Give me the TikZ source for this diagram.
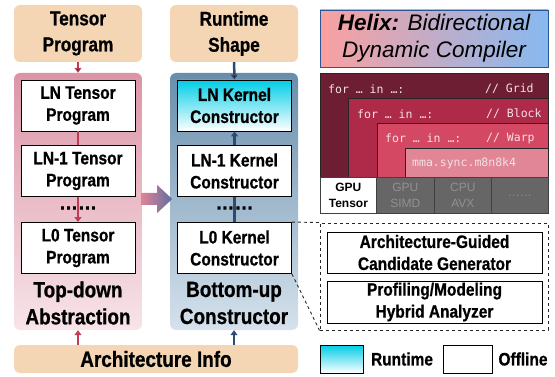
\documentclass[tikz,border=0pt]{standalone}
\usepackage{fontspec}
\setmainfont{Liberation Sans}[FakeStretch=0.86,BoldFeatures={FakeBold=0.8}]
\newfontfamily\plainsans{Liberation Sans}
\newfontfamily\codefont{DejaVu Sans Mono}
\usetikzlibrary{arrows.meta,positioning,calc}
\definecolor{tanbg}{RGB}{245,214,180}
\definecolor{pinktop}{RGB}{220,148,166}
\definecolor{pinkbot}{RGB}{247,228,233}
\definecolor{bluetop}{RGB}{104,142,172}
\definecolor{bluebot}{RGB}{214,226,237}
\definecolor{redln}{RGB}{190,60,85}
\definecolor{blueln}{RGB}{45,75,110}
\definecolor{cyantop}{RGB}{0,205,230}
\definecolor{helixl}{RGB}{250,160,160}
\definecolor{helixr}{RGB}{135,185,240}
\definecolor{helixb}{RGB}{45,85,150}
\definecolor{gridc}{RGB}{110,30,50}
\definecolor{blockc}{RGB}{175,42,72}
\definecolor{warpc}{RGB}{212,72,100}
\definecolor{mmac}{RGB}{224,134,150}
\definecolor{cellgray}{RGB}{102,102,102}
\definecolor{celltext}{RGB}{145,145,145}
\definecolor{codetxt}{RGB}{245,225,230}
\definecolor{arrowpink}{RGB}{225,130,150}
\definecolor{arrowblue}{RGB}{95,110,160}
\tikzset{
 >={Triangle[width=7pt,length=5pt]},
 tanbox/.style={fill=tanbg,rounded corners=6pt,minimum width=128pt,inner sep=0pt,align=center},
 panel/.style={rounded corners=6pt,minimum width=128pt,minimum height=257pt,inner sep=0pt},
 stagebox/.style={draw=black,line width=0.9pt,fill=white,minimum width=114pt,minimum height=51pt,inner sep=0pt,align=center,font=\fontsize{18}{22}\selectfont\bfseries},
 paneltitle/.style={align=center,inner sep=0pt,font=\fontsize{22}{27}\selectfont\bfseries},
 redarrow/.style={draw=redln,line width=2.5pt},
 bluearrow/.style={draw=blueln,line width=2.5pt},
 loopbox/.style={draw=black!85,line width=0.8pt,anchor=north west,inner sep=0pt},
 code/.style={font=\codefont\fontsize{11.5}{13}\selectfont,text=codetxt,inner sep=0pt,anchor=west},
 cell/.style={draw=black!75,line width=0.8pt,fill=cellgray,text=celltext,anchor=north west,minimum height=36pt,inner sep=0pt,align=center,font=\plainsans\fontsize{12}{14}\selectfont}
}

\begin{document}
\begin{tikzpicture}[x=1pt,y=-1pt]
\useasboundingbox (0,0) rectangle (555,377);

% left: top-down abstraction
\path (78,33.5) node[name=tensor,tanbox,minimum height=57pt,font=\fontsize{20}{26}\selectfont\bfseries] {Tensor\\Program};
\path (78,201.5) node[name=tdpanel,panel,top color=pinktop,bottom color=pinkbot] {};
\path (78,105.5) node[name=lnT,stagebox] {LN Tensor\\Program};
\path (78,171) node[name=lnmT,stagebox] {LN-1 Tensor\\Program};
\path (78,248) node[name=lzT,stagebox] {L0 Tensor\\Program};
\path (78,303) node[name=tdlabel,paneltitle] {Top-down\\Abstraction};

% right: bottom-up constructor
\path (234,33.5) node[name=runtime,tanbox,minimum height=57pt,font=\fontsize{20}{26}\selectfont\bfseries] {Runtime\\Shape};
\path (234,201.5) node[name=bupanel,panel,top color=bluetop,bottom color=bluebot] {};
\path (234.5,105.5) node[name=lnK,stagebox,top color=cyantop,bottom color=white] {LN Kernel\\Constructor};
\path (234.5,171) node[name=lnmK,stagebox] {LN-1 Kernel\\Constructor};
\path (234.5,248) node[name=lzK,stagebox] {L0 Kernel\\Constructor};
\path (234,303) node[name=bulabel,paneltitle] {Bottom-up\\Constructor};

\path (156,359) node[name=arch,tanbox,minimum width=284pt,minimum height=28pt,font=\fontsize{22}{26}\selectfont\bfseries] {Architecture Info};

% connectors
\path[->,redarrow] (tensor) edge (tdpanel);
\draw[redarrow] (lnT) -- (lnmT);
\draw[->,redarrow] (lnmT) -- (lzT);
\draw[->,redarrow] (arch.north -| tdpanel) -- (tdpanel.south);
\path[->,bluearrow] (runtime) edge (lnK);
\draw[->,bluearrow] (lnmK) -- (lnK);
\draw[bluearrow] (lzK) -- (lnmK);
\draw[->,bluearrow] (arch.north -| bupanel) -- (bupanel.south);
\path (78,208) node[name=tddots,inner sep=0pt,font=\fontsize{22}{22}\selectfont\bfseries] {……};
\path (234.5,208) node[name=budots,inner sep=0pt,font=\fontsize{22}{22}\selectfont\bfseries] {……};

% handoff arrow
\shade[left color=arrowpink,right color=arrowblue] ($(tdpanel.east)+(-1,-8.5)$) -- ++(16,0) -- ++(0,-8) -- ++(15,14) -- ++(-15,14) -- ++(0,-8) -- ++(-16,0) -- cycle;

% helix title
\path (434,38.5) node[name=helix,draw=helixb,line width=0.8pt,left color=helixl,right color=helixr,minimum width=228pt,minimum height=57pt,inner sep=0pt,align=center,font=\plainsans\itshape\fontsize{22.5}{27}\selectfont] {\textbf{Helix:} Bidirectional\\Dynamic Compiler};

% loop nest
\path (320,73) node[name=grid,loopbox,fill=gridc,minimum width=228pt,minimum height=104pt] {};
\path (348,98) node[name=block,loopbox,fill=blockc,minimum width=200pt,minimum height=79pt] {};
\path (377,123) node[name=warp,loopbox,fill=warpc,minimum width=171pt,minimum height=54pt] {};
\path (405,148) node[name=mma,loopbox,fill=mmac,minimum width=143pt,minimum height=29pt] {};
\path (328,89) node[code] {for … in …:};
\path (485,89) node[code] {// Grid};
\path (357,114) node[code] {for … in …:};
\path (486,114) node[code] {// Block};
\path (385,138.5) node[code] {for … in …:};
\path (486,138.5) node[code] {// Warp};
\path (412,163.5) node[code] {mma.sync.m8n8k4};

\path (320,177) node[name=gputc,cell,fill=white,text=black,minimum width=56pt,font=\plainsans\bfseries\fontsize{12}{16}\selectfont] {GPU\\Tensor};
\path (376,177) node[name=simd,cell,minimum width=58pt,font=\plainsans\fontsize{12}{16}\selectfont] {GPU\\SIMD};
\path (434,177) node[name=avx,cell,minimum width=57pt,font=\plainsans\fontsize{12}{16}\selectfont] {CPU\\AVX};
\path (491,177) node[name=more,cell,minimum width=57pt] {……};

% zoom-in on L0 constructor
\path (434,276.5) node[name=detail,draw=black!85,dashed,line width=0.9pt,minimum width=228pt,minimum height=107pt] {};
\path (434.5,252.5) node[name=gen,stagebox,minimum width=215pt,minimum height=41pt] {Architecture-Guided\\Candidate Generator};
\path (434.5,302) node[name=ana,stagebox,minimum width=215pt,minimum height=42pt] {Profiling/Modeling\\Hybrid Analyzer};
\draw[dashed,line width=0.9pt,black!85] (lzK.north east) -- (detail.north west);
\draw[dashed,line width=0.9pt,black!85] (lzK.south east) -- (detail.south west);

% legend
\path (341.5,359) node[name=rtkey,draw=black,line width=0.9pt,top color=cyantop,bottom color=white,minimum width=43pt,minimum height=28pt,inner sep=0pt] {};
\path (402,359) node[name=rttext,inner sep=0pt,font=\fontsize{18}{22}\selectfont\bfseries] {Runtime};
\path (467.5,359) node[name=offkey,draw=black,line width=0.9pt,fill=white,minimum width=49pt,minimum height=28pt,inner sep=0pt] {};
\path (523,359) node[name=offtext,inner sep=0pt,font=\fontsize{18}{22}\selectfont\bfseries] {Offline};
\end{tikzpicture}
\end{document}
